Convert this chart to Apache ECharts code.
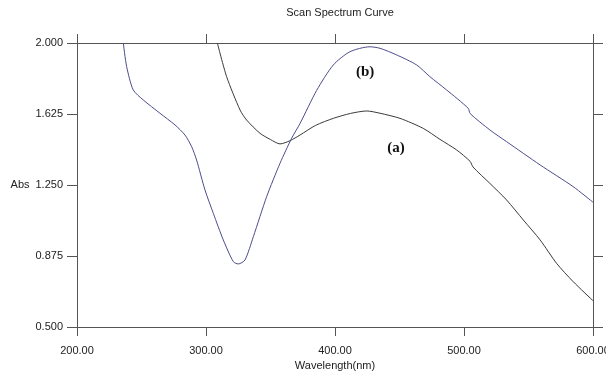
<!DOCTYPE html>
<html>
<head>
<meta charset="utf-8">
<script src="https://cdn.jsdelivr.net/npm/echarts@6/dist/echarts.min.js"></script>
<style>
  html, body { margin: 0; padding: 0; background: #fff; }
  #chart { width: 606px; height: 373px; }
</style>
</head>
<body>
<div id="chart"></div>
<script>
// curve (a) - black
const wlA = [308.8, 316, 326.4, 331.5, 341.9, 350, 357.4, 365.1, 372.9, 385, 398.7, 412, 424.6, 434.9, 450.4, 468.4, 481.4, 494.3, 504.7, 507, 520, 533, 546, 559, 571.8, 584.7, 600]
const absA = [2.0, 1.822, 1.646, 1.593, 1.523, 1.49, 1.467, 1.484, 1.514, 1.565, 1.602, 1.628, 1.641, 1.629, 1.602, 1.549, 1.491, 1.435, 1.375, 1.345, 1.259, 1.171, 1.065, 0.96, 0.836, 0.739, 0.639]

// curve (b) - blue
const wlB = [235.9, 238.5, 243.6, 251.4, 264.3, 276, 283.7, 288.9, 292.7, 299.2, 305.7, 313.4, 321.2, 325, 330.2, 336.7, 347, 357.4, 366.4, 372.9, 385.8, 398.7, 411.6, 427, 434.9, 447.8, 463.3, 473.6, 486.5, 503.3, 504.7, 520.2, 533, 559, 584.7, 600]
const absB = [2.0, 1.875, 1.752, 1.699, 1.629, 1.567, 1.514, 1.452, 1.382, 1.224, 1.1, 0.96, 0.845, 0.833, 0.854, 0.977, 1.188, 1.365, 1.497, 1.575, 1.75, 1.884, 1.954, 1.98, 1.972, 1.937, 1.884, 1.822, 1.752, 1.655, 1.628, 1.54, 1.479, 1.356, 1.241, 1.159]

// curve labels, in data coords
const labelA = { text: '(a)', wl: 447.3, abs: 1.445 }
const labelB = { text: '(b)', wl: 423.3, abs: 1.847 }

const chart = echarts.init(document.getElementById('chart'))

const font = "'Liberation Sans Narrow', 'Liberation Sans', Arial, sans-serif"
const axisCol = '#555'

const pairs = (xs, ys) => xs.map((x, i) => [x, ys[i]])

const curveLabel = (l) => ({
  symbolSize: 0,
  data: [{
    coord: [l.wl, l.abs],
    label: {
      show: true,
      formatter: l.text,
      position: 'inside',
      fontFamily: "'Liberation Serif', 'Times New Roman', serif",
      fontWeight: 'bold',
      fontSize: 15,
      color: '#111'
    }
  }]
})

const xBase = {
  type: 'value', min: 200, max: 600, interval: 100,
  splitLine: { show: false },
  axisLine: { lineStyle: { color: axisCol, width: 1 } },
  axisTick: { length: 9, lineStyle: { color: axisCol } }
}
const yBase = {
  type: 'value', min: 0.5, max: 2.0, interval: 0.375,
  splitLine: { show: false },
  axisLine: { lineStyle: { color: axisCol, width: 1 } },
  axisTick: { length: 10, lineStyle: { color: axisCol } }
}

chart.setOption({
  animation: false,
  title: {
    text: 'Scan Spectrum Curve',
    left: 335, top: 2, textAlign: 'center',
    textStyle: { fontFamily: font, fontSize: 11, fontWeight: 'normal', color: '#222' }
  },
  grid: { left: 77, top: 43, width: 516, height: 284, outerBoundsMode: 'none', containLabel: false },
  xAxis: [
    {
      ...xBase, position: 'bottom',
      name: 'Wavelength(nm)', nameLocation: 'middle', nameGap: 33,
      nameTextStyle: { fontFamily: font, fontSize: 11, color: '#222' },
      axisLabel: {
        fontFamily: font, fontSize: 11, color: '#222', margin: 18,
        formatter: (v) => v.toFixed(2)
      }
    },
    { ...xBase, position: 'top', axisLabel: { show: false } }
  ],
  yAxis: [
    {
      ...yBase, position: 'left',
      name: 'Abs', nameLocation: 'middle', nameRotate: 0, nameGap: 47,
      nameTextStyle: { fontFamily: font, fontSize: 11, color: '#222' },
      axisLabel: {
        fontFamily: font, fontSize: 11, color: '#222', margin: 14,
        formatter: (v) => v.toFixed(3)
      }
    },
    { ...yBase, position: 'right', axisLabel: { show: false } }
  ],
  series: [
    {
      name: 'a', type: 'line',
      data: pairs(wlA, absA),
      smooth: 0.25, symbol: 'none',
      lineStyle: { width: 1, color: '#3a3a3a' },
      markPoint: curveLabel(labelA)
    },
    {
      name: 'b', type: 'line',
      data: pairs(wlB, absB),
      smooth: 0.25, symbol: 'none',
      lineStyle: { width: 1, color: '#4c4c8c' },
      markPoint: curveLabel(labelB)
    }
  ]
})
</script>
</body>
</html>
